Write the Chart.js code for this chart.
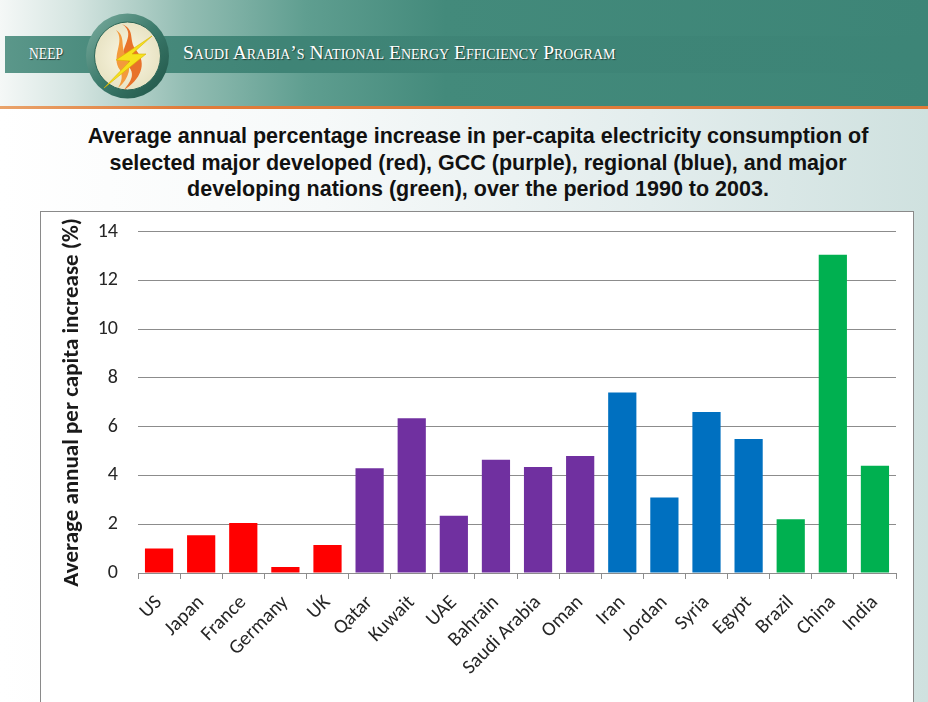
<!DOCTYPE html>
<html>
<head>
<meta charset="utf-8">
<script src="https://cdn.jsdelivr.net/npm/chart.js@4.4.1/dist/chart.umd.min.js"></script>
<style>
  html, body { margin: 0; padding: 0; }
  body { width: 928px; height: 702px; overflow: hidden; position: relative;
         background: linear-gradient(to right, #ffffff 0%, #f6f9f9 35%, #e3eded 70%, #cfe1df 100%); }
  #hdr { position: absolute; left: 0; top: 0; width: 928px; height: 110px; }
  .neep { position: absolute; left: 29px; top: 44px; color: #fff; font-family: "Liberation Serif", "DejaVu Serif", serif;
          font-size: 17px; text-shadow: 1px 1px 1px rgba(0,0,0,0.6); transform: scaleX(0.8); transform-origin: left; }
  .prog { position: absolute; left: 183px; top: 42px; color: #fff; font-family: "Liberation Serif", "DejaVu Serif", serif;
          font-size: 19.5px; font-variant: small-caps; text-shadow: 1px 1px 1px rgba(0,0,0,0.55); white-space: nowrap; }
  #title { position: absolute; left: 0; width: 956px; top: 123px; text-align: center; font-family: "Liberation Sans", Arial, sans-serif;
           font-weight: bold; font-size: 21.5px; line-height: 26.5px; color: #111; }
  #box { position: absolute; left: 40px; top: 211px; width: 872px; height: 520px; background: #fff; border: 1px solid #8a8a8a; }
  #c { position: absolute; left: 41px; top: 212px; }
</style>
</head>
<body>
<svg id="hdr" width="928" height="110" xmlns="http://www.w3.org/2000/svg">
  <defs>
    <linearGradient id="bg" x1="0" x2="1" y1="0" y2="0">
      <stop offset="0" stop-color="#f5f8f7"/>
      <stop offset="0.08" stop-color="#d5e5e1"/>
      <stop offset="0.2" stop-color="#93bdb3"/>
      <stop offset="0.33" stop-color="#5f9e90"/>
      <stop offset="0.48" stop-color="#438a7b"/>
      <stop offset="1" stop-color="#3d8577"/>
    </linearGradient>
    <linearGradient id="band" x1="0" x2="1" y1="0" y2="0">
      <stop offset="0" stop-color="#5b978a"/>
      <stop offset="0.1" stop-color="#4a8b7d"/>
      <stop offset="0.3" stop-color="#3f8476"/>
      <stop offset="1" stop-color="#3d8577"/>
    </linearGradient>
    <linearGradient id="orange" x1="0" x2="1" y1="0" y2="0">
      <stop offset="0" stop-color="#e9a36b"/>
      <stop offset="0.2" stop-color="#e07b39"/>
      <stop offset="1" stop-color="#e07b39"/>
    </linearGradient>
    <linearGradient id="ring" x1="0" x2="1" y1="0" y2="1">
      <stop offset="0" stop-color="#7fb0a2"/>
      <stop offset="0.5" stop-color="#3b7a6b"/>
      <stop offset="1" stop-color="#1e5245"/>
    </linearGradient>
    <radialGradient id="inner" cx="0.5" cy="0.5" r="0.5">
      <stop offset="0" stop-color="#fbf7e2"/>
      <stop offset="1" stop-color="#e8e3c4"/>
    </radialGradient>
  </defs>
  <rect x="0" y="0" width="928" height="107" fill="url(#bg)"/>
  <rect x="5" y="36" width="923" height="37" fill="url(#band)"/>
  <rect x="0" y="106" width="928" height="3" fill="url(#orange)"/>
  <ellipse cx="127.5" cy="56" rx="41.5" ry="42.5" fill="url(#ring)"/>
  <ellipse cx="127.5" cy="56" rx="33" ry="34" fill="url(#inner)" stroke="#2c6657" stroke-width="1"/>
  <path d="M122 24 C 140 36, 112 52, 128 66 C 138 76, 126 86, 124 90 C 140 80, 148 64, 136 50 C 128 40, 136 30, 122 24 Z" fill="#e8722a"/>
  <path d="M116 30 C 126 42, 110 56, 120 70 C 124 78, 120 84, 118 88 C 130 78, 132 66, 126 56 C 120 46, 126 36, 116 30 Z" fill="#f39a3c"/>
  <polygon points="152,36 116,60 130,61 104,88 146,54 132,54" fill="#f6e21c" stroke="#d9b400" stroke-width="0.6"/>
</svg>
<div class="neep">NEEP</div>
<div class="prog">Saudi Arabia’s National Energy Efficiency Program</div>
<div id="title">Average annual percentage increase in per-capita electricity consumption of<br>selected major developed (red), GCC (purple), regional (blue), and major<br>developing nations (green), over the period 1990 to 2003.</div>
<div id="box"></div>
<canvas id="c" width="872" height="490"></canvas>
<script>
const categories = ["US","Japan","France","Germany","UK","Qatar","Kuwait","UAE","Bahrain","Saudi Arabia","Oman","Iran","Jordan","Syria","Egypt","Brazil","China","India"];
const values = [1.0, 1.55, 2.05, 0.25, 1.15, 4.3, 6.35, 2.35, 4.65, 4.35, 4.8, 7.4, 3.1, 6.6, 5.5, 2.2, 13.05, 4.4];
const groups = ["developed","developed","developed","developed","developed","gcc","gcc","gcc","gcc","gcc","gcc","regional","regional","regional","regional","developing","developing","developing"];
const yTicks = [0, 2, 4, 6, 8, 10, 12, 14];
const groupColors = { developed: "#FF0000", gcc: "#7030A0", regional: "#0070C0", developing: "#00B050" };

const FONT = "Carlito, Lato, 'Open Sans', sans-serif";
new Chart(document.getElementById("c"), {
  type: "bar",
  data: {
    labels: categories,
    datasets: [{
      data: values,
      backgroundColor: groups.map(g => groupColors[g]),
      borderWidth: 0,
      barPercentage: 0.67,
      categoryPercentage: 1.0
    }]
  },
  options: {
    responsive: false,
    animation: false,
    layout: { padding: { top: 19.7, right: 17, left: 0, bottom: 0 } },
    plugins: { legend: { display: false }, tooltip: { enabled: false } },
    scales: {
      x: {
        offset: true,
        grid: { display: true, offset: true, drawOnChartArea: false, drawTicks: true, tickLength: 6, color: "#8c8c8c", lineWidth: 1 },
        border: { display: true, color: "#8c8c8c", width: 1 },
        ticks: { font: { family: FONT, size: 20 }, color: "#262626", minRotation: 45, maxRotation: 45, autoSkip: false, padding: 12 },
        afterFit: s => { s.height = 129; }
      },
      y: {
        min: yTicks[0], max: yTicks[yTicks.length - 1],
        afterBuildTicks: s => { s.ticks = yTicks.map(v => ({ value: v })); },
        grid: { color: "#8c8c8c", lineWidth: 1, drawTicks: true, tickLength: 20, tickColor: "rgba(0,0,0,0)" },
        border: { display: false },
        ticks: { font: { family: FONT, size: 20 }, color: "#262626", padding: 0 },
        title: { display: true, text: "Average annual per capita increase (%)", font: { family: FONT, size: 23, weight: "bold" }, color: "#1a1a1a", padding: { top: 17, bottom: 0 } },
        afterFit: s => { s.width = 97; }
      }
    }
  }
});
</script>
</body>
</html>
